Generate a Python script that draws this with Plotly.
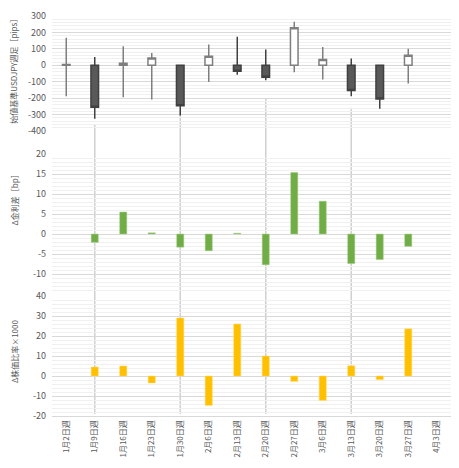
import plotly.graph_objects as go

categories = ["1月2日週", "1月9日週", "1月16日週", "1月23日週", "1月30日週", "2月6日週", "2月13日週",
              "2月20日週", "2月27日週", "3月6日週", "3月13日週", "3月20日週", "3月27日週", "4月3日週"]

# USDJPY weekly candles relative to open (pips)
candle_open = [0, 0, 0, 0, 0, 0, 0, 0, 0, 0, 0, 0, 0]
candle_high = [167, 50, 116, 75, 5, 126, 173, 96, 265, 112, 41, 0, 100]
candle_low = [-189, -325, -195, -209, -305, -101, -58, -91, -43, -87, -189, -264, -111]
candle_close = [5, -255, 12, 45, -246, 55, -37, -73, 228, 35, -154, -205, 61]

# Δ rate spread (bp)
rate_diff = [None, -2.1, 5.5, 0.3, -3.3, -4.2, 0.2, -7.7, 15.4, 8.2, -7.4, -6.4, -3.1, None]

# Δ stock price ratio x1000
stock_ratio = [None, 4.5, 5.0, -3.5, 29.0, -14.7, 26.0, 10.0, -2.7, -12.2, 5.1, -1.8, 23.6, None]

# vertical guide lines (category, start value on the top axis)
vline_cats = ["1月9日週", "1月30日週", "2月20日週", "3月13日週"]
vline_top_vals = [-362, -270, -203, -258]

top_ticks = [300, 200, 100, 0, -100, -200, -300, -400]
top_ticktext = ["300", "200", "100", "0", "-100", "-200", "-300", "-400"]
mid_ticks = [20, 15, 10, 5, 0, -5, -10]
mid_ticktext = ["20", "15", "10", "5", "0", "-5", "-10"]
bot_ticks = [40, 30, 20, 10, 0, -10, -20]
bot_ticktext = ["40", "30", "20", "10", "0", "-10", "-20"]

title_top = "始値基準USDJPY週足［pips］"
title_mid = "Δ金利差［bp］"
title_bot = "Δ株価比率×1000"

FONT = "Noto Sans CJK JP"
TXT = "#595959"
GRID = "#d9d9d9"
MINOR = "#f0f0f0"

fig = go.Figure()

fig.add_trace(go.Candlestick(
    x=categories[:len(candle_open)], open=candle_open, high=candle_high,
    low=candle_low, close=candle_close,
    xaxis="x3", yaxis="y3",
    increasing=dict(fillcolor="#ffffff", line=dict(color="#7f7f7f", width=1.5)),
    decreasing=dict(fillcolor="#595959", line=dict(color="#404040", width=1.5)),
    whiskerwidth=0, showlegend=False, hoverinfo="skip",
))

fig.add_trace(go.Bar(
    x=categories, y=rate_diff, xaxis="x2", yaxis="y2", width=0.25,
    marker=dict(color="#70ad47", line=dict(color="#a9d18e", width=0.5)),
    showlegend=False,
))

fig.add_trace(go.Bar(
    x=categories, y=stock_ratio, xaxis="x", yaxis="y", width=0.25,
    marker=dict(color="#ffc000", line=dict(color="#ffd966", width=0.5)),
    showlegend=False,
))

top_dom = [0.7125, 1.0]
top_rng = [-400, 300]
mid_dom = [0.305, 0.655]
mid_rng = [-15, 20]
bot_dom = [0.0, 0.3]
bot_rng = [-20, 40]

def yaxis_cfg(dom, rng, ticks, text, minor, anchor):
    return dict(
        domain=dom, range=rng, tickvals=ticks, ticktext=text, anchor=anchor,
        showgrid=True, gridcolor=GRID, gridwidth=1, zeroline=False,
        minor=dict(dtick=minor, showgrid=True, gridcolor=MINOR, gridwidth=1, ticks=""),
        tickfont=dict(family=FONT, size=9, color=TXT), ticks="", showline=False,
        ticklabelstandoff=5, fixedrange=True,
    )

xr = [-0.5, len(categories) - 0.5]
xcommon = dict(type="category", categoryorder="array", categoryarray=categories,
               range=xr, showgrid=False, zeroline=False, fixedrange=True)

fig.update_layout(
    width=443, height=452, autosize=False,
    margin=dict(l=44, r=0, t=8, b=44),
    paper_bgcolor="white", plot_bgcolor="white",
    bargap=0.75, boxgap=0.62,
    font=dict(family=FONT, color=TXT),
    xaxis=dict(**xcommon, anchor="y", showline=True, linecolor=GRID, linewidth=1,
               tickangle=-90, tickfont=dict(family=FONT, size=8, color=TXT), ticks=""),
    xaxis2=dict(**xcommon, anchor="y2", matches="x", showticklabels=False),
    xaxis3=dict(**xcommon, anchor="y3", matches="x", showticklabels=False,
                rangeslider=dict(visible=False)),
    yaxis=yaxis_cfg(bot_dom, bot_rng, bot_ticks, bot_ticktext, 2, "x"),
    yaxis2=yaxis_cfg(mid_dom, mid_rng, mid_ticks, mid_ticktext, 1, "x2"),
    yaxis3=yaxis_cfg(top_dom, top_rng, top_ticks, top_ticktext, 20, "x3"),
)

# vertical guide lines, mapped from top axis value to paper
shapes = []
for c, v in zip(vline_cats, vline_top_vals):
    frac = (v - top_rng[0]) / (top_rng[1] - top_rng[0])
    ytop = top_dom[0] + frac * (top_dom[1] - top_dom[0])
    shapes.append(dict(type="line", xref="x", yref="paper", x0=c, x1=c,
                       y0=0.005, y1=ytop, line=dict(color="#d0d0d0", width=1.5),
                       layer="below"))
fig.update_layout(shapes=shapes)

ann = []
for text, yc in [(title_top, 0.866), (title_mid, 0.544), (title_bot, 0.1625)]:
    ann.append(dict(text=text, xref="paper", yref="paper", x=-0.095, y=yc,
                    textangle=-90, showarrow=False, xanchor="center", yanchor="middle",
                    font=dict(family=FONT, size=8, color=TXT)))
fig.update_layout(annotations=ann)

fig.write_html("out.html")
